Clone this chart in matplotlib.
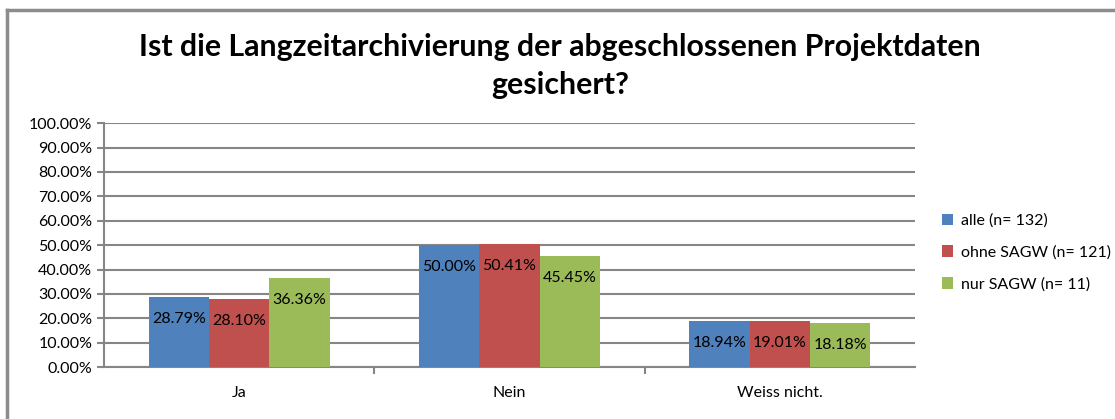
import numpy as np
import matplotlib.pyplot as plt
from matplotlib.lines import Line2D

categories = ["Ja", "Nein", "Weiss nicht."]
series = ["alle (n= 132)", "ohne SAGW (n= 121)", "nur SAGW (n= 11)"]
alle = [28.79, 50.00, 18.94]
ohne_sagw = [28.10, 50.41, 19.01]
nur_sagw = [36.36, 45.45, 18.18]
colors = ["#4f81bd", "#c0504d", "#9bbb59"]

plt.rcParams['font.family'] = ['Lato', 'DejaVu Sans']

fig = plt.figure(figsize=(11.15, 4.19), dpi=100)
ax = fig.add_axes([0.0933, 0.124, 0.7273, 0.582])

x = np.arange(len(categories))
w = 0.223
for i, (vals, name) in enumerate(zip([alle, ohne_sagw, nur_sagw], series)):
    bars = ax.bar(x + (i - 1) * w, vals, w, color=colors[i], label=name, zorder=3)
    for b, v in zip(bars, vals):
        ax.annotate("%.2f%%" % v, (b.get_x() + b.get_width() / 2, v),
                    xytext=(0, -22), textcoords="offset pixels",
                    ha="center", va="center", fontsize=11.5, zorder=4)

ax.set_xlim(-0.5, 2.5)
ax.set_ylim(0, 100)
ax.set_yticks(np.arange(0, 101, 10))
ax.set_yticklabels(["%.2f%%" % t for t in np.arange(0, 101, 10)], fontsize=11.5)
ax.set_xticks(x)
ax.set_xticklabels(categories, fontsize=11.5)
ax.tick_params(axis="x", length=0, pad=14)
ax.tick_params(axis="y", length=5, width=1.5, color="#868686", direction="out")
ax.set_xticks([0.5, 1.5], minor=True)
ax.tick_params(axis="x", which="minor", length=5, width=1.5, color="#868686")
ax.grid(axis="y", color="#868686", linewidth=1.5, zorder=0)
for s in ["top", "right"]:
    ax.spines[s].set_visible(False)
for s in ["left", "bottom"]:
    ax.spines[s].set_color("#868686")
    ax.spines[s].set_linewidth(1.5)

fig.text(0.502, 0.842, "Ist die Langzeitarchivierung der abgeschlossenen Projektdaten\ngesichert?",
         ha="center", va="center", fontsize=21.8, fontweight="bold", linespacing=1.43)

leg = ax.legend(loc="center left", bbox_to_anchor=(1.015, 0.47), frameon=False,
                fontsize=11.5, handlelength=0.7, handleheight=0.7, labelspacing=1.1,
                handletextpad=0.5)

fig.add_artist(Line2D([7 / 1115, 1], [1 - 10 / 419, 1 - 10 / 419], color="#8c8c8c", lw=2.5))
fig.add_artist(Line2D([7 / 1115, 7 / 1115], [0, 1 - 10 / 419], color="#8c8c8c", lw=2.5))

fig.savefig("out.png", dpi=100)
